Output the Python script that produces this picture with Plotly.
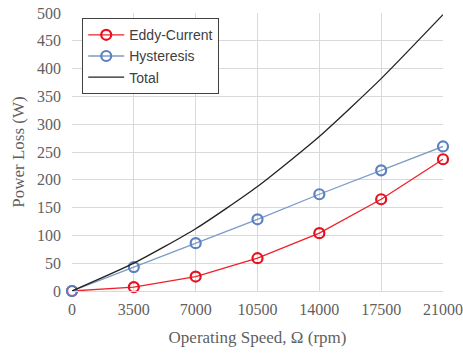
import plotly.graph_objects as go

speed = [0, 3500, 7000, 10500, 14000, 17500, 21000]
eddy = [0, 7, 26, 59, 104, 165, 237]
hysteresis = [0, 43, 86, 129, 174, 217, 260]
total = [0, 50, 112, 188, 278, 382, 497]

tick_vals = [0, 3500, 7000, 10500, 14000, 17500, 21000]
y_ticks = list(range(0, 501, 50))

SERIF = "Liberation Serif"
GREY = "#5F5F5F"

fig = go.Figure()
fig.add_trace(go.Scatter(
    x=speed, y=eddy, name="Eddy-Current", mode="lines+markers", cliponaxis=False,
    line=dict(color="#F0202A", width=1.3),
    marker=dict(symbol="circle-open", size=10, color="#E8101E", line=dict(width=2.2)),
))
fig.add_trace(go.Scatter(
    x=speed, y=hysteresis, name="Hysteresis", mode="lines+markers", cliponaxis=False,
    line=dict(color="#7C9BC8", width=1.3),
    marker=dict(symbol="circle-open", size=10, color="#5B82BF", line=dict(width=2.2)),
))
fig.add_trace(go.Scatter(
    x=speed, y=total, name="Total", mode="lines", cliponaxis=False,
    line=dict(color="#222222", width=1.3, shape="spline", smoothing=0.6),
))

fig.update_layout(
    width=463, height=353,
    margin=dict(l=72, r=20, t=13, b=62, autoexpand=False),
    paper_bgcolor="white", plot_bgcolor="white",
    font=dict(family=SERIF, color=GREY, size=16),
    showlegend=True,
    legend=dict(
        x=0.027, y=0.982, xanchor="left", yanchor="top",
        bgcolor="white", bordercolor="#404040", borderwidth=1.2,
        font=dict(family="Liberation Sans", size=14, color="#404040"),
        tracegroupgap=0, itemwidth=36,
    ),
    xaxis=dict(
        range=[0, 21000], tickvals=tick_vals, ticktext=[str(v) for v in tick_vals],
        showgrid=True, gridcolor="#D9D9D9", gridwidth=1,
        showline=True, linecolor="#D9D9D9", zeroline=False,
        ticks="", automargin=False, ticklabelstandoff=4,
        title=dict(text="Operating Speed, Ω (rpm)", font=dict(family=SERIF, size=17, color=GREY), standoff=13),
        tickfont=dict(family=SERIF, size=16, color=GREY),
    ),
    yaxis=dict(
        range=[0, 500], tickvals=y_ticks,
        showgrid=True, gridcolor="#D9D9D9", gridwidth=1,
        showline=False, zeroline=False, ticks="", automargin=False, ticklabelstandoff=10,
        title=dict(text="Power Loss (W)", font=dict(family=SERIF, size=17, color=GREY), standoff=8),
        tickfont=dict(family=SERIF, size=16, color=GREY),
    ),
)

fig.write_html("out.html")
